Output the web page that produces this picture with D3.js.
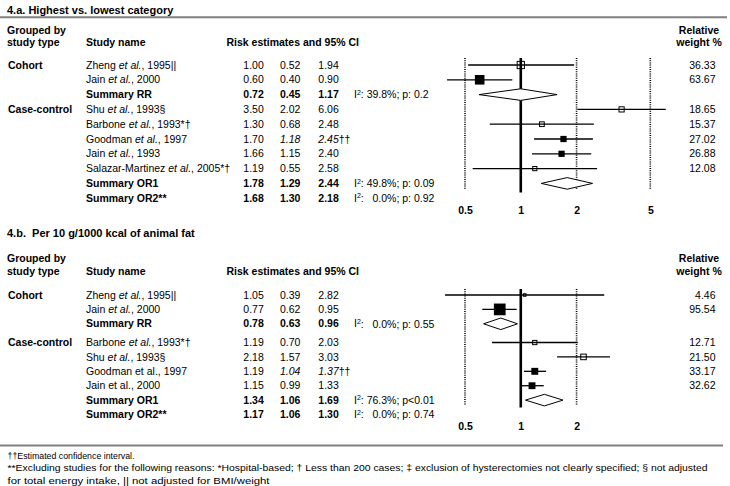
<!DOCTYPE html>
<html><head><meta charset="utf-8">
<script src="https://cdn.jsdelivr.net/npm/d3@7"></script>
<style>
body{margin:0;background:#fff}
svg{display:block}
text{font-family:"Liberation Sans",Arial,Helvetica,sans-serif;fill:#000;white-space:pre}
</style>
</head><body>
<svg id="chart" width="730" height="486"></svg>
<script>
// ---------- Panel 4.a data ----------
const titleA = "4.a. Highest vs. lowest category";
const namesA = ["Zheng et al., 1995||","Jain et al., 2000","Summary RR","Shu et al., 1993§","Barbone et al., 1993*†","Goodman et al., 1997","Jain et al., 1993","Salazar-Martinez et al., 2005*†","Summary OR1","Summary OR2**"];
const groupLabelsA = ["Cohort","Case-control"];
const groupStartA = [0,3];
const italicEtAlA = [true,true,false,true,true,true,true,true,false,false];
const summaryA = [false,false,true,false,false,false,false,false,true,true];
const estA = [1.00,0.60,0.72,3.50,1.30,1.70,1.66,1.19,1.78,1.68];
const loA  = [0.52,0.40,0.45,2.02,0.68,1.18,1.15,0.55,1.29,1.30];
const hiA  = [1.94,0.90,1.17,6.06,2.48,2.45,2.40,2.58,2.44,2.18];
const weightA = [36.33,63.67,null,18.65,15.37,27.02,26.88,12.08,null,null];
const excludedA = [true,false,false,true,true,false,false,true,false,false];
const estimatedCIA = [false,false,false,false,false,true,false,false,false,false];
const hetA = [null,null,"39.8%; p: 0.2",null,null,null,null,null,"49.8%; p: 0.09","  0.0%; p: 0.92"];
// diamonds as they appear in the figure (row index, low, centre, high)
const diamondRowsA = [2,8];
const diamondLoA  = [0.595,1.29];
const diamondMidA = [1.00,1.78];
const diamondHiA  = [1.57,2.44];
const ticksA = [0.5,1,2,5];

// ---------- Panel 4.b data ----------
const titleB = "4.b.  Per 10 g/1000 kcal of animal fat";
const namesB = ["Zheng et al., 1995||","Jain et al., 2000","Summary RR","Barbone et al., 1993*†","Shu et al., 1993§","Goodman et al., 1997","Jain et al., 2000","Summary OR1","Summary OR2**"];
const groupLabelsB = ["Cohort","Case-control"];
const groupStartB = [0,3];
const italicEtAlB = [true,true,false,true,true,false,false,false,false];
const summaryB = [false,false,true,false,false,false,false,true,true];
const estB = [1.05,0.77,0.78,1.19,2.18,1.19,1.15,1.34,1.17];
const loB  = [0.39,0.62,0.63,0.70,1.57,1.04,0.99,1.06,1.06];
const hiB  = [2.82,0.95,0.96,2.03,3.03,1.37,1.33,1.69,1.30];
const weightB = [4.46,95.54,null,12.71,21.50,33.17,32.62,null,null];
const excludedB = [true,false,false,true,true,false,false,false,false];
const estimatedCIB = [false,false,false,false,false,true,false,false,false];
const hetB = [null,null,"  0.0%; p: 0.55",null,null,null,null,"76.3%; p<0.01","  0.0%; p: 0.74"];
const diamondRowsB = [2,7];
const diamondLoB  = [0.63,1.06];
const diamondMidB = [0.78,1.34];
const diamondHiB  = [0.96,1.69];
const ticksB = [0.5,1,2];

// ---------- Footnotes ----------
const footnotes = [
  "††Estimated confidence interval.",
  "**Excluding studies for the following reasons: *Hospital-based; † Less than 200 cases; ‡ exclusion of hysterectomies not clearly specified; § not adjusted",
  "for total energy intake, || not adjusted for BMI/weight"
];
const footnoteWidths = [127, 700, 262];

// ---------- Drawing ----------
const svg = d3.select("#chart");
const FS = 10.5;
const x = d3.scaleLog().domain([0.5,5]).range([465,650.3]);
const fmt = d3.format(".2f");

function drawPanel(p){
  const g = svg.append("g");
  g.append("text").attr("x",7).attr("y",p.titleY).attr("font-size",11).attr("font-weight","bold").text(p.title);
  // headers
  const h1 = p.headY, h2 = p.headY + 12.5;
  const hd = g.append("g").attr("font-size",FS).attr("font-weight","bold");
  hd.append("text").attr("x",7).attr("y",h1).text("Grouped by");
  hd.append("text").attr("x",7).attr("y",h2).text("study type");
  hd.append("text").attr("x",86).attr("y",h2).text("Study name");
  hd.append("text").attr("x",226.5).attr("y",h2).text("Risk estimates and 95% CI");
  hd.append("text").attr("x",699).attr("y",h1).attr("text-anchor","middle").text("Relative");
  hd.append("text").attr("x",699).attr("y",h2).attr("text-anchor","middle").text("weight %");

  const n = p.names.length;
  const idx = d3.range(n);
  const y = d3.scaleLinear().domain([0,1]).range([p.y0, p.y0 + p.step]);
  const yr = i => y(i + (i >= p.groupStart[1] ? p.gap : 0));

  // group labels
  p.groupLabels.forEach((lab,k)=>{
    g.append("text").attr("x",8).attr("y",yr(p.groupStart[k])).attr("dy","0.35em")
      .attr("font-size",FS).attr("font-weight","bold").text(lab);
  });

  // study names
  idx.forEach(i=>{
    const t = g.append("text").attr("x",86).attr("y",yr(i)).attr("dy","0.35em").attr("font-size",FS)
      .attr("font-weight",p.summary[i]?"bold":"normal");
    const nm = p.names[i];
    const k = nm.indexOf("et al.");
    if(k>=0){
      t.append("tspan").text(nm.slice(0,k));
      t.append("tspan").attr("font-style",p.italic[i]?"italic":"normal").text("et al.");
      t.append("tspan").text(nm.slice(k+6));
    } else t.text(nm);
  });

  // numbers
  const cols = [243.3,280,318.3];
  idx.forEach(i=>{
    const vals = [p.est[i],p.lo[i],p.hi[i]];
    vals.forEach((v,c)=>{
      const t = g.append("text").attr("x",cols[c]).attr("y",yr(i)).attr("dy","0.35em").attr("font-size",FS)
        .attr("font-weight",p.summary[i]?"bold":"normal");
      if(p.estCI[i] && c>0){
        t.append("tspan").attr("font-style","italic").text(fmt(v));
        if(c===2) t.append("tspan").text("††");
      } else t.text(fmt(v));
    });
    if(p.het[i]){
      const t = g.append("text").attr("x",354).attr("y",yr(i)).attr("dy","0.35em").attr("font-size",FS);
      t.append("tspan").text("I");
      t.append("tspan").attr("font-size",7).attr("dy","-0.5em").text("2");
      t.append("tspan").attr("dy","0.35em").text(": " + p.het[i]);
    }
    if(p.weight[i]!=null){
      g.append("text").attr("x",715.5).attr("y",yr(i)).attr("dy","0.35em").attr("font-size",FS)
        .attr("text-anchor","end").text(fmt(p.weight[i]));
    }
  });

  // reference lines
  p.ticks.forEach(t=>{
    if(t===1){
      g.append("line").attr("x1",x(t)).attr("x2",x(t)).attr("y1",p.lineTop).attr("y2",p.lineBottom+2.5)
        .attr("stroke","#000").attr("stroke-width",2.6);
    } else {
      g.append("line").attr("x1",x(t)).attr("x2",x(t)).attr("y1",p.lineTop).attr("y2",p.lineBottom)
        .attr("stroke","#000").attr("stroke-width",1.6).attr("stroke-dasharray","1,1.2");
    }
  });

  // axis labels
  const ax = g.append("g").attr("transform",`translate(0,${p.axisY})`)
    .call(d3.axisBottom(x).tickValues(p.ticks).tickFormat(d=>String(d)).tickSize(0).tickPadding(0));
  ax.select(".domain").remove();
  ax.selectAll("text").attr("font-family",'"Liberation Sans",Arial,sans-serif').attr("font-size",FS).attr("font-weight","bold").attr("fill","#000");

  // CI lines and boxes (studies only)
  idx.filter(i=>p.weight[i]!=null).forEach(i=>{
    g.append("line").attr("x1",x(p.lo[i])).attr("x2",x(p.hi[i])).attr("y1",yr(i)).attr("y2",yr(i))
      .attr("stroke","#000").attr("stroke-width",1.3);
    const s = 1.2*Math.sqrt(p.weight[i]);
    if(p.excluded[i]){
      g.append("rect").attr("x",x(p.est[i])-s/2).attr("y",yr(i)-s/2).attr("width",s).attr("height",s)
        .attr("fill","none").attr("stroke","#000").attr("stroke-width",1);
    } else {
      g.append("rect").attr("x",x(p.est[i])-s/2).attr("y",yr(i)-s/2).attr("width",s).attr("height",s)
        .attr("fill","#000");
    }
  });

  // diamonds
  p.dRows.forEach((r,k)=>{
    const cy = yr(r), hh = 5.8;
    const pts = [[x(p.dLo[k]),cy],[x(p.dMid[k]),cy-hh],[x(p.dHi[k]),cy],[x(p.dMid[k]),cy+hh]];
    g.append("path").attr("d", d3.line()(pts)+"Z").attr("fill","#fff").attr("stroke","#000").attr("stroke-width",1);
  });
}

drawPanel({title:titleA,titleY:14,headY:33.5,names:namesA,groupLabels:groupLabelsA,groupStart:groupStartA,
  italic:italicEtAlA,summary:summaryA,est:estA,lo:loA,hi:hiA,weight:weightA,excluded:excludedA,estCI:estimatedCIA,het:hetA,
  dRows:diamondRowsA,dLo:diamondLoA,dMid:diamondMidA,dHi:diamondHiA,ticks:ticksA,
  y0:65,step:14.8,gap:0,lineTop:58,lineBottom:190,axisY:207});

drawPanel({title:titleB,titleY:236.5,headY:262,names:namesB,groupLabels:groupLabelsB,groupStart:groupStartB,
  italic:italicEtAlB,summary:summaryB,est:estB,lo:loB,hi:hiB,weight:weightB,excluded:excludedB,estCI:estimatedCIB,het:hetB,
  dRows:diamondRowsB,dLo:diamondLoB,dMid:diamondMidB,dHi:diamondHiB,ticks:ticksB,
  y0:295,step:14.4,gap:0.3,lineTop:289,lineBottom:405,axisY:422.5});

// separator rules
svg.append("line").attr("x1",0).attr("x2",727).attr("y1",17.3).attr("y2",17.3).attr("stroke","#808080").attr("stroke-width",2);
svg.append("line").attr("x1",0).attr("x2",723).attr("y1",445.5).attr("y2",445.5).attr("stroke","#808080").attr("stroke-width",2);

// footnotes
svg.append("g").selectAll("text").data(footnotes).join("text")
  .attr("x",7.5).attr("y",(d,i)=>458.5+i*12.5).attr("font-size",9.5)
  .attr("textLength",(d,i)=>footnoteWidths[i]).attr("lengthAdjust","spacingAndGlyphs").text(d=>d);
</script>
</body></html>
